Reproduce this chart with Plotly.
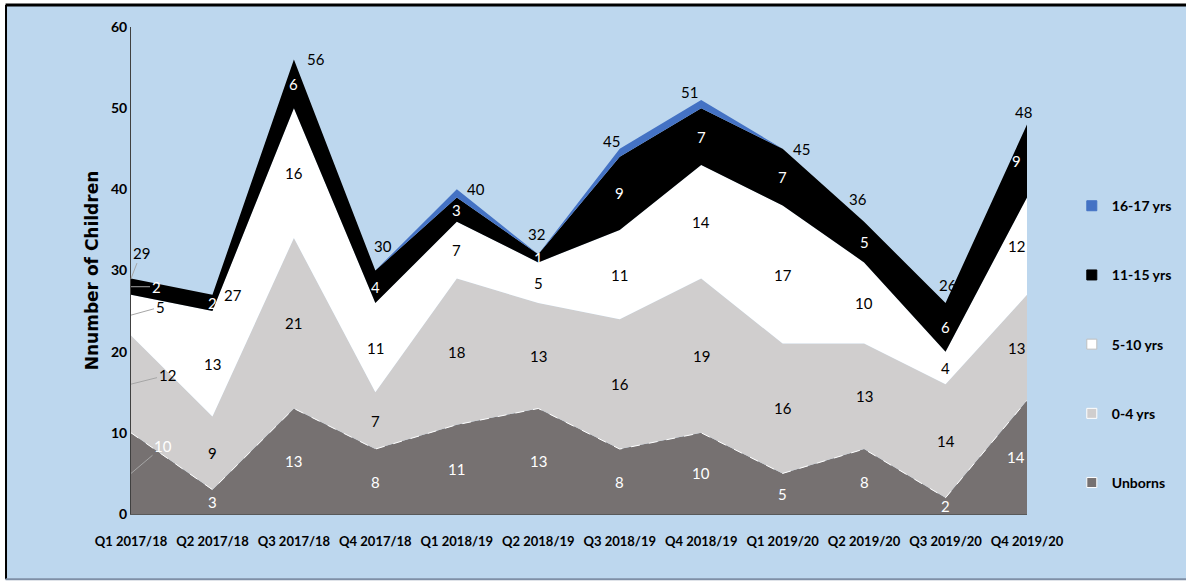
import plotly.graph_objects as go

categories = ["Q1 2017/18", "Q2 2017/18", "Q3 2017/18", "Q4 2017/18",
              "Q1 2018/19", "Q2 2018/19", "Q3 2018/19", "Q4 2018/19",
              "Q1 2019/20", "Q2 2019/20", "Q3 2019/20", "Q4 2019/20"]
unborns = [10, 3, 13, 8, 11, 13, 8, 10, 5, 8, 2, 14]
age_0_4 = [12, 9, 21, 7, 18, 13, 16, 19, 16, 13, 14, 13]
age_5_10 = [5, 13, 16, 11, 7, 5, 11, 14, 17, 10, 4, 12]
age_11_15 = [2, 2, 6, 4, 3, 1, 9, 7, 7, 5, 6, 9]
age_16_17 = [0, 0, 0, 0, 1, 0, 1, 1, 0, 0, 0, 0]
y_ticks = [0, 10, 20, 30, 40, 50, 60]

series = [
    ("Unborns", unborns, "#767171", "white"),
    ("0-4 yrs", age_0_4, "#D0CECE", "black"),
    ("5-10 yrs", age_5_10, "#FFFFFF", "black"),
    ("11-15 yrs", age_11_15, "#000000", "white"),
    ("16-17 yrs", age_16_17, "#4472C4", None),
]

LBL_FONT = "Lato, Liberation Sans, sans-serif"
BG = "#BDD7EE"

fig = go.Figure()
for name, vals, col, _ in series:
    if name == "Unborns":
        line = dict(color="white", width=1, dash="dash")
    else:
        line = dict(color=col, width=0)
    fig.add_trace(go.Scatter(x=categories, y=vals, name=name, mode="lines",
                             stackgroup="one", fillcolor=col, line=line,
                             showlegend=False, hoverinfo="x+y+name"))

# legend-only markers (top of legend = top of stack)
legend_border = {"Unborns": "#FFFFFF", "0-4 yrs": "#FFFFFF", "5-10 yrs": "#BFBFBF",
                 "11-15 yrs": "#000000", "16-17 yrs": "#4472C4"}
for name, vals, col, _ in reversed(series):
    fig.add_trace(go.Scatter(x=[None], y=[None], mode="markers", name=name,
                             legendgroup=name,
                             marker=dict(symbol="square", size=10, color=col,
                                         line=dict(color=legend_border[name], width=1))))

annotations = []
first_offsets = {"Unborns": (32, -27), "0-4 yrs": (36, -9), "5-10 yrs": (29, -8),
                 "11-15 yrs": (25, 0)}
last_idx = len(categories) - 1
base = [0] * len(categories)
for name, vals, col, fcol in series:
    for i, v in enumerate(vals):
        if fcol is not None and v > 0:
            yc = base[i] + v / 2
            if i == 0:
                ax, ay = first_offsets[name]
                annotations.append(dict(x=categories[i], y=yc, text=str(v), showarrow=True,
                                        ax=ax, ay=ay, arrowhead=0, arrowwidth=1,
                                        arrowcolor="#A6A6A6", standoff=0,
                                        font=dict(family=LBL_FONT, size=15, color=fcol)))
            else:
                annotations.append(dict(x=categories[i], y=yc, text=str(v), showarrow=False,
                                        xshift=-11 if i == last_idx else 0,
                                        font=dict(family=LBL_FONT, size=15, color=fcol)))
        base[i] += v

totals = base
total_shift = [(10, 26), (21, 0), (22, 0), (8, 25), (19, 0), (-2, 20),
               (-8, 8), (-12, 8), (19, 0), (-6, 23), (2, 18), (-4, 12)]
for i, t in enumerate(totals):
    xs, ys = total_shift[i]
    if i == 0:
        annotations.append(dict(x=categories[i], y=t, text=str(t), showarrow=True,
                                ax=xs, ay=-ys, arrowhead=0, arrowwidth=1,
                                arrowcolor="#A6A6A6", standoff=0,
                                font=dict(family=LBL_FONT, size=15, color="black")))
    else:
        annotations.append(dict(x=categories[i], y=t, text=str(t), showarrow=False,
                                xshift=xs, yshift=ys,
                                font=dict(family=LBL_FONT, size=15, color="black")))

shapes = [
    dict(type="rect", xref="paper", yref="paper", x0=-0.1395, x1=1.2, y0=-0.134,
         y1=1.045, fillcolor=BG, line=dict(width=0), layer="below"),
    dict(type="line", xref="paper", yref="paper", x0=-0.14, x1=1.2, y0=1.045, y1=1.045,
         line=dict(color="black", width=3)),
    dict(type="line", xref="paper", yref="paper", x0=-0.1395, x1=-0.1395, y0=-0.134, y1=1.045,
         line=dict(color="black", width=2)),
    dict(type="line", xref="paper", yref="paper", x0=-0.14, x1=1.2, y0=-0.134, y1=-0.134,
         line=dict(color="#7F8FA6", width=2)),
]

fig.update_layout(
    width=1186, height=583,
    margin=dict(l=131, r=159, t=27, b=69, autoexpand=False),
    paper_bgcolor="white",
    plot_bgcolor=BG,
    showlegend=True,
    legend=dict(x=1.05, xanchor="left", y=0.665, yanchor="top",
                traceorder="grouped", tracegroupgap=48, bgcolor="rgba(0,0,0,0)",
                font=dict(family=LBL_FONT, size=14, color="black", weight="bold"),
                itemwidth=30),
    xaxis=dict(type="category", categoryorder="array", categoryarray=categories,
               range=[0, len(categories) - 1], showgrid=False, zeroline=False,
               showline=True, linecolor="#595959", linewidth=1, ticks="", tickangle=0,
               automargin=False,
               tickfont=dict(family=LBL_FONT, size=13, color="black", weight="bold"),
               ticklabelstandoff=15),
    yaxis=dict(range=[0, 60], tickvals=y_ticks, showgrid=False, zeroline=False,
               showline=True, linecolor="#404040", linewidth=1, ticks="", automargin=False,
               tickfont=dict(family=LBL_FONT, size=14, color="black", weight="bold"),
               title=dict(text="<b>Nnumber of Children</b>", standoff=8,
                          font=dict(family="DejaVu Sans, Verdana, sans-serif", size=17,
                                    color="black"))),
    annotations=annotations,
    shapes=shapes,
)

fig.write_html("out.html")
